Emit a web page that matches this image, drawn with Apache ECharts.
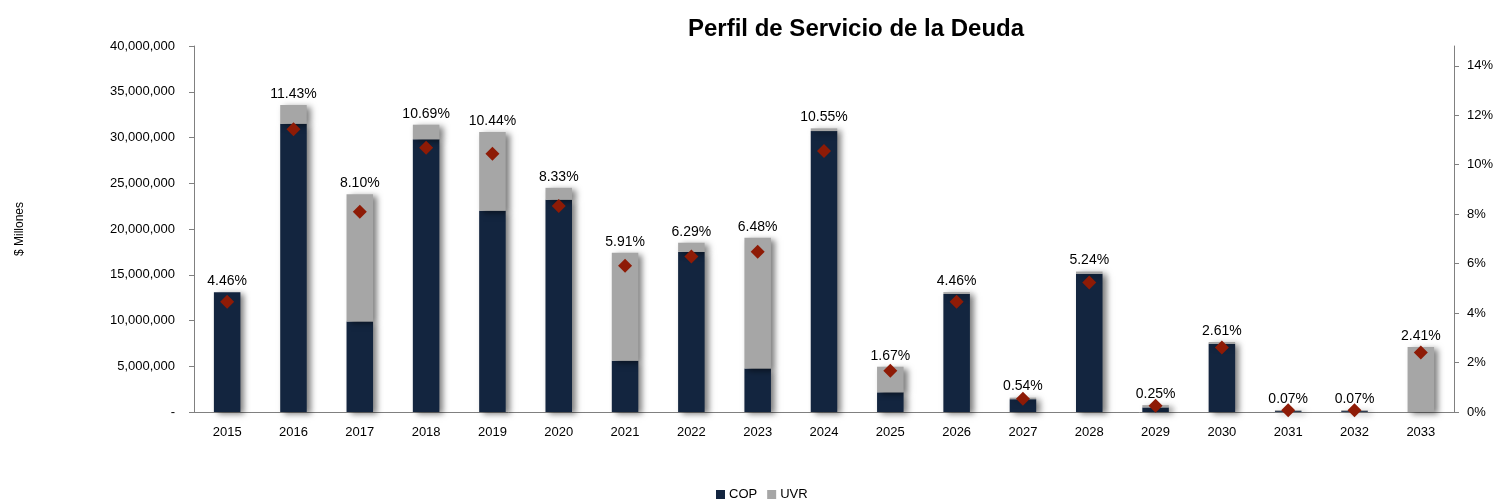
<!DOCTYPE html>
<html><head><meta charset="utf-8">
<script src="https://cdn.jsdelivr.net/npm/echarts@6/dist/echarts.min.js"></script>
<style>html,body{margin:0;padding:0;background:#fff}#c{width:1499px;height:500px}</style>
</head><body><div id="c"></div>
<script>
var years = ['2015','2016','2017','2018','2019','2020','2021','2022','2023','2024','2025','2026','2027','2028','2029','2030','2031','2032','2033'];
var cop = [13100000,31500000,9900000,29800000,22000000,23200000,5600000,17500000,4750000,30700000,2150000,12900000,1400000,15100000,500000,7450000,100000,100000,0];
var uvr = [0,2050000,13900000,1600000,8600000,1300000,11800000,1000000,14300000,300000,2800000,200000,170000,250000,250000,200000,110000,110000,7100000];
var pct = [4.46,11.43,8.10,10.69,10.44,8.33,5.91,6.29,6.48,10.55,1.67,4.46,0.54,5.24,0.25,2.61,0.07,0.07,2.41];

var chart = echarts.init(document.getElementById('c'));
var font = 'Liberation Sans, Arial, sans-serif';
var shadow = {shadowColor:'rgba(0,0,0,0.5)', shadowBlur:6, shadowOffsetX:4, shadowOffsetY:2};
function fmtNum(v){ if(v===0) return '-'; return v.toString().replace(/\B(?=(\d{3})+(?!\d))/g, ','); }
chart.setOption({
  animation:false,
  textStyle:{fontFamily:font},
  title:{text:'Perfil de Servicio de la Deuda', left:683, top:12,
    textStyle:{fontFamily:font, fontSize:24, fontWeight:'bold', color:'#000'}},
  legend:{top:483, left:711, itemWidth:9, itemHeight:9, itemGap:10, icon:'rect',
    data:['COP','UVR'], textStyle:{fontSize:13, color:'#000', fontFamily:font, padding:[0,0,0,-1]}},
  grid:{left:194, right:45, top:46, bottom:88},
  xAxis:{type:'category', data:years, boundaryGap:true,
    axisLine:{lineStyle:{color:'#808080'}},
    axisTick:{alignWithLabel:false, length:5, lineStyle:{color:'#808080'}},
    axisLabel:{fontSize:13, color:'#000', margin:14, fontFamily:font}},
  yAxis:[
    {type:'value', min:0, max:40000000, interval:5000000, name:'$ Millones', nameLocation:'middle', nameGap:168, nameRotate:90,
     nameTextStyle:{fontSize:12, color:'#000', fontFamily:font},
     axisLine:{show:true, lineStyle:{color:'#808080'}}, axisTick:{show:true, length:5, lineStyle:{color:'#808080'}},
     splitLine:{show:false}, axisLabel:{fontSize:13, color:'#000', margin:19, formatter:fmtNum, fontFamily:font}},
    {type:'value', min:0, max:14.8, interval:2, position:'right',
     axisLine:{show:true, lineStyle:{color:'#808080'}}, axisTick:{show:true, length:5, lineStyle:{color:'#808080'}},
     splitLine:{show:false},
     axisLabel:{fontSize:13, color:'#000', margin:13, fontFamily:font, showMaxLabel:false,
       formatter:function(v){ return (Math.abs(v/2-Math.round(v/2))<1e-6) ? Math.round(v)+'%' : ''; }}}
  ],
  series:[
    {name:'COP', type:'bar', stack:'t', data:cop, barWidth:'40%', itemStyle:Object.assign({color:'#13253F'}, shadow)},
    {name:'UVR', type:'bar', stack:'t', data:uvr, itemStyle:Object.assign({color:'#A6A6A6'}, shadow),
     label:{show:true, position:'top', distance:4, fontSize:14, color:'#000', fontFamily:font,
       formatter:function(p){ return pct[p.dataIndex].toFixed(2)+'%'; }}},
    {name:'Pct', type:'line', yAxisIndex:1, data:pct, symbol:'diamond', symbolSize:14,
     lineStyle:{width:0, opacity:0}, itemStyle:{color:'#8E1B06'}, z:5}
  ]
});
</script></body></html>
